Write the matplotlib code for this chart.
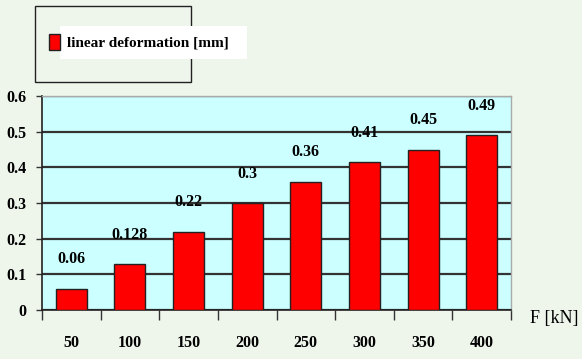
import matplotlib
matplotlib.use("Agg")
import matplotlib.pyplot as plt
from matplotlib.patches import Rectangle
import numpy as np

categories = ["50", "100", "150", "200", "250", "300", "350", "400"]
values = [0.06, 0.128, 0.22, 0.30, 0.36, 0.415, 0.45, 0.49]
value_labels = ["0.06", "0.128", "0.22", "0.3", "0.36", "0.41", "0.45", "0.49"]
yticks = [0, 0.1, 0.2, 0.3, 0.4, 0.5, 0.6]
ytick_labels = ["0", "0.1", "0.2", "0.3", "0.4", "0.5", "0.6"]
series_name = "linear deformation [mm]"
x_label = "F [kN]"

W, H = 582, 359
fig = plt.figure(figsize=(W / 100, H / 100), dpi=100)
fig.patch.set_facecolor("#eef6ec")

ax = fig.add_axes([42 / W, 1 - 310 / H, (511 - 42) / W, (310 - 96) / H])
ax.set_facecolor("#ccffff")

x = np.arange(len(categories))
font = dict(family="Liberation Serif", fontweight="bold")

ax.set_axisbelow(True)
ax.yaxis.grid(True, color="#333333", linewidth=1.6)
bars = ax.bar(x, values, width=0.53, color="#ff0000", edgecolor="#222222",
              linewidth=1.0, label=series_name, zorder=3)

for xi, v, lab in zip(x, values, value_labels):
    ax.annotate(lab, (xi, v), xytext=(0, 21), textcoords="offset points",
                ha="center", va="center", fontsize=11.5, **font)

ax.set_xlim(-0.5, len(categories) - 0.5)
ax.set_ylim(0, 0.6)
ax.set_yticks(yticks)
ax.set_yticklabels(ytick_labels, fontsize=11.5, **font)

ax.set_xticks(np.arange(len(categories) + 1) - 0.5)
ax.set_xticklabels([])
ax.set_xticks(x, minor=True)
ax.set_xticklabels(categories, minor=True, fontsize=11.5, **font)
ax.tick_params(axis="x", which="major", length=7, width=1.0, color="#333333", direction="out")
ax.tick_params(axis="x", which="minor", length=0, pad=18)
ax.tick_params(axis="y", length=4, width=1.0, color="#333333", pad=7)

for s in ["left", "bottom"]:
    ax.spines[s].set_color("#222222")
    ax.spines[s].set_linewidth(1.2)
for s in ["top", "right"]:
    ax.spines[s].set_color("#aaaaaa")
    ax.spines[s].set_linewidth(1.0)

fig.text(579 / W, 1 - 318 / H, x_label, ha="right", va="center", fontsize=13,
         family="Liberation Serif")

# outer legend box
fig.patches.append(Rectangle((35 / W, 1 - 82 / H), (191 - 35) / W, (82 - 6) / H,
                             transform=fig.transFigure, facecolor="none",
                             edgecolor="#222222", linewidth=1.0))
# white band behind legend text
fig.patches.append(Rectangle((60 / W, 1 - 59 / H), (247 - 60) / W, (59 - 26) / H,
                             transform=fig.transFigure, facecolor="white",
                             edgecolor="none", zorder=1))
leg = fig.legend(handles=[bars], labels=[series_name], loc="center left",
                 bbox_to_anchor=(49 / W, 1 - 42 / H), frameon=False,
                 handlelength=0.7, handleheight=1.2, handletextpad=0.45,
                 borderpad=0.0, borderaxespad=0.0,
                 prop=dict(family="Liberation Serif", weight="bold", size=11))
leg.set_zorder(5)

fig.savefig("out.png", dpi=100, facecolor=fig.get_facecolor())
